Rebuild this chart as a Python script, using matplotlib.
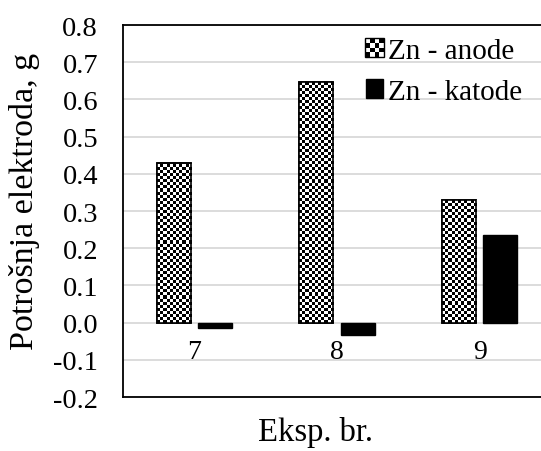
import numpy as np
import matplotlib.pyplot as plt
from matplotlib.patches import Rectangle
from matplotlib.legend_handler import HandlerBase

plt.rcParams['font.family'] = ['Liberation Serif', 'DejaVu Serif']

experiments = ['7', '8', '9']
anode = [0.428, 0.647, 0.330]
katode = [-0.015, -0.032, 0.236]


class CheckerHandler(HandlerBase):
    def create_artists(self, legend, orig_handle, xdescent, ydescent, width, height, fontsize, trans):
        n = 4
        s = height / n
        x0 = -xdescent + (width - height) / 2
        arts = [Rectangle((x0, -ydescent), height, height, facecolor='white', edgecolor='black',
                          linewidth=1.0, transform=trans)]
        for i in range(n):
            for j in range(n):
                if (i + j) % 2 == 0:
                    arts.append(Rectangle((x0 + i * s, -ydescent + j * s), s, s, facecolor='black',
                                          edgecolor='none', transform=trans))
        return arts


fig = plt.figure(figsize=(5.41, 4.52), dpi=100)
ax = fig.add_axes([123 / 541, 1 - 398 / 452, 428 / 541, 372 / 452])

x = np.arange(len(experiments))
w = 0.24
gap = 0.05
bars_a = ax.bar(x - (w + gap) / 2, anode, w, color='white', edgecolor='black', linewidth=1.2, zorder=3)
bars_k = ax.bar(x + (w + gap) / 2, katode, w, color='black', edgecolor='black', zorder=3)

# checkerboard fill for the anode bars
cell = 0.0082
for b in bars_a:
    x0, y0 = b.get_x(), b.get_y()
    bw, bh = b.get_width(), b.get_height()
    nx = 11
    ny = max(1, int(round(bh / cell)))
    board = (np.add.outer(np.arange(ny), np.arange(nx)) % 2).astype(float)
    im = ax.imshow(board, cmap='gray', extent=(x0, x0 + bw, y0, y0 + ny * cell),
                   aspect='auto', interpolation='nearest', zorder=3.5, origin='lower')
    im.set_clip_path(b)
    ax.add_patch(Rectangle((x0, y0), bw, bh, fill=False, edgecolor='black', linewidth=1.2, zorder=4))

ax.set_xlim(-0.5, 2.5)
ax.set_ylim(-0.2, 0.8)
yt = np.arange(-0.2, 0.81, 0.1)
ax.set_yticks(yt)
ax.set_yticklabels([f'{v:.1f}' for v in yt], fontsize=20.5)
ax.tick_params(axis='y', length=0, pad=18)
ax.set_xticks([])
ax.grid(axis='y', color='#d9d9d9', linewidth=1.3, zorder=0)
ax.set_axisbelow(True)
for s in ax.spines.values():
    s.set_color('black')
    s.set_linewidth(1.3)

for i, lab in enumerate(experiments):
    ax.text(i, -0.078, lab, ha='center', va='center', fontsize=20)

fig.text(25 / 541, 1 - 201 / 452, 'Potrošnja elektroda, g', rotation=90,
         ha='center', va='center', fontsize=24.5)
fig.text(316 / 541, 1 - 433 / 452, 'Eksp. br.', ha='center', va='center', fontsize=23.5)

h_a = Rectangle((0, 0), 1, 1)
h_k = Rectangle((0, 0), 1, 1, facecolor='black', edgecolor='black')
ax.legend([h_a, h_k], ['Zn - anode', 'Zn - katode'], loc='upper left', bbox_to_anchor=(0.52, 1.02),
          frameon=False, fontsize=21, handlelength=0.6, handleheight=0.6, handletextpad=0.15,
          labelspacing=0.5, borderpad=0.2, handler_map={h_a: CheckerHandler()})

fig.savefig('out.png', dpi=100)
